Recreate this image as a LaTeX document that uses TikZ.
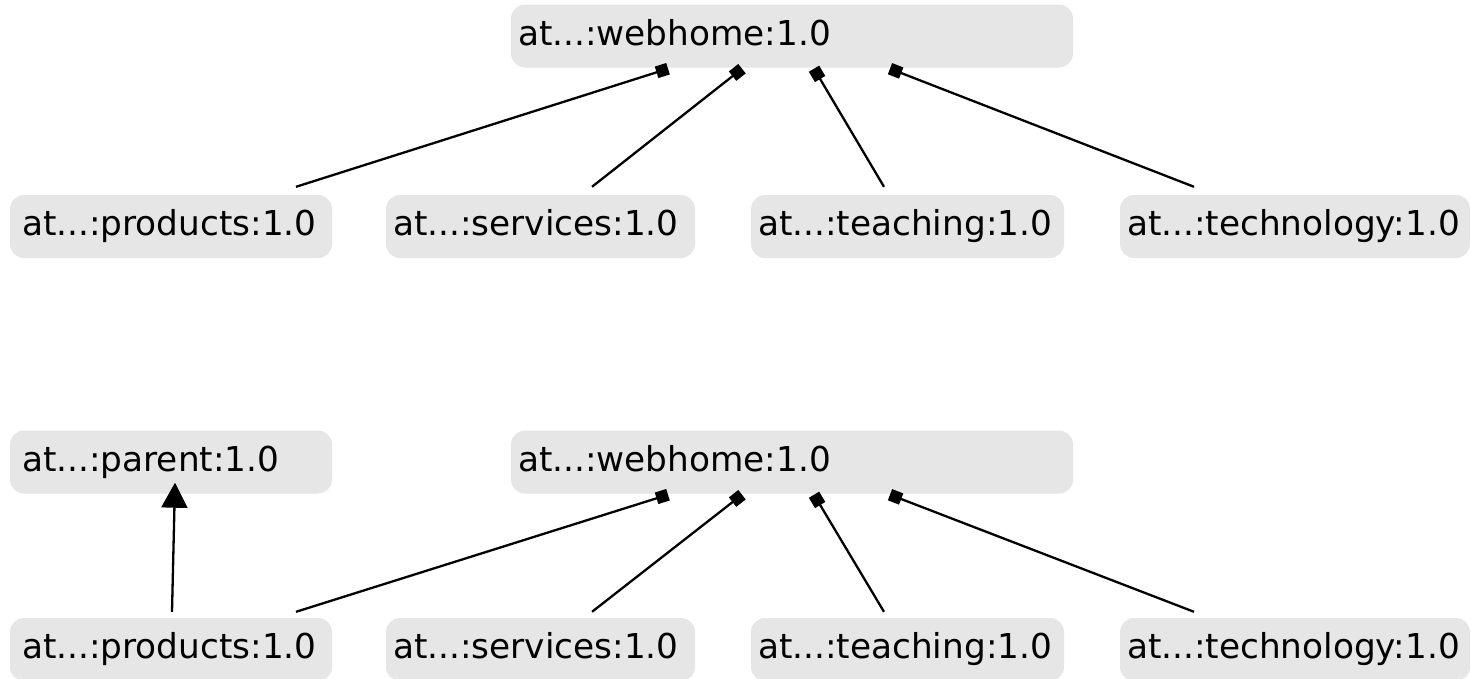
\documentclass[tikz,border=0pt]{standalone}
\usepackage{fontspec}
\setmainfont{DejaVu Sans}
\usetikzlibrary{arrows.meta}
\definecolor{boxgray}{RGB}{230,230,230}
\tikzset{
  x=1pt, y=-1pt,
  entity/.style={fill=boxgray, rounded corners=14pt, inner xsep=7pt, inner ysep=0pt,
    minimum height=63pt, text height=26pt, text depth=8pt, align=left,
    font=\fontsize{34.3}{40}\selectfont, anchor=center},
  widepad/.style={inner xsep=12pt},
  member/.style={line width=2.3pt, -{Square[length=12pt,width=12pt]}},
  inherits/.style={line width=2.3pt, -{Triangle[length=25pt,width=26pt]}},
}
\begin{document}
\begin{tikzpicture}
\useasboundingbox (0,0) rectangle (1471,678);
\fill[white] (0,0) rectangle (1471,678);

% upper composition tree
\node[entity, text width=548pt] (w1) at (792,36) {at...:webhome:1.0};
\node[entity, widepad, text width=298pt] (p1) at (171,226.5) {at...:products:1.0};
\node[entity, text width=295pt] (s1) at (540.5,226.5) {at...:services:1.0};
\node[entity, text width=299pt] (t1) at (907.5,226.5) {at...:teaching:1.0};
\node[entity, text width=336pt] (g1) at (1295,226.5) {at...:technology:1.0};

\draw[member] ([xshift=125pt,yshift=8pt]p1.north) -- ([xshift=-124pt,yshift=-1pt]w1.south);
\draw[member] ([xshift=51.5pt,yshift=8pt]s1.north) -- ([xshift=-50pt,yshift=-1pt]w1.south);
\draw[member] ([xshift=-23.5pt,yshift=8pt]t1.north) -- ([xshift=22pt,yshift=-1pt]w1.south);
\draw[member] ([xshift=-101pt,yshift=8pt]g1.north) -- ([xshift=98pt,yshift=-1pt]w1.south);

% lower composition tree with parent link
\node[entity, widepad, text width=298pt] (r2) at (171,462) {at...:parent:1.0};
\node[entity, text width=548pt] (w2) at (792,462) {at...:webhome:1.0};
\node[entity, widepad, text width=298pt] (p2) at (171,649.5) {at...:products:1.0};
\node[entity, text width=295pt] (s2) at (540.5,649.5) {at...:services:1.0};
\node[entity, text width=299pt] (t2) at (907.5,649.5) {at...:teaching:1.0};
\node[entity, text width=336pt] (g2) at (1295,649.5) {at...:technology:1.0};

\draw[inherits] ([xshift=1pt,yshift=6pt]p2.north) -- ([xshift=4pt,yshift=11pt]r2.south);
\draw[member] ([xshift=125pt,yshift=6pt]p2.north) -- ([xshift=-124pt,yshift=-1pt]w2.south);
\draw[member] ([xshift=51.5pt,yshift=6pt]s2.north) -- ([xshift=-50pt,yshift=-1pt]w2.south);
\draw[member] ([xshift=-23.5pt,yshift=6pt]t2.north) -- ([xshift=22pt,yshift=-1pt]w2.south);
\draw[member] ([xshift=-101pt,yshift=6pt]g2.north) -- ([xshift=98pt,yshift=-1pt]w2.south);
\end{tikzpicture}
\end{document}
